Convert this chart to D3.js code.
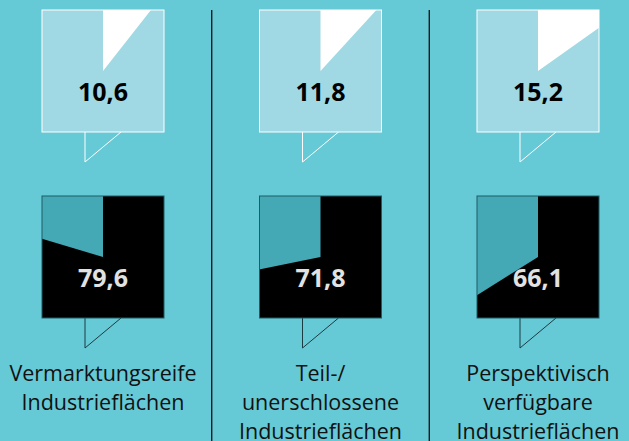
<!DOCTYPE html>
<html>
<head>
<meta charset="utf-8">
<script src="https://cdn.jsdelivr.net/npm/d3@7"></script>
<style>
  body { margin: 0; background: #66c9d6; }
</style>
</head>
<body>
<script>
let width = 629
let height = 441
let backgroundColor = '#66c9d6'

// data
let categories = ['Vermarktungsreife Industrieflächen', 'Teil-/ unerschlossene Industrieflächen', 'Perspektivisch verfügbare Industrieflächen']
let labelLines = [
    ['Vermarktungsreife', 'Industrieflächen'],
    ['Teil-/', 'unerschlossene', 'Industrieflächen'],
    ['Perspektivisch', 'verfügbare', 'Industrieflächen']
]
let topValues = [10.6, 11.8, 15.2]
let bottomValues = [79.6, 71.8, 66.1]

let svgContainer = d3.select("body").append("svg")
                                    .attr("width", width)
                                    .attr("height", height)

svgContainer.append('rect')
            .attr('width', '100%')
            .attr('height', '100%')
            .attr('fill', backgroundColor)

let x = d3.scalePoint().domain(categories).range([103, 538])
let angle = d3.scaleLinear().domain([0, 100]).range([0, 2 * Math.PI])
let fmt = v => d3.format('.1f')(v).replace('.', ',')

let size = 122
let half = size / 2
let topY = 10
let bottomY = 196
let tailLeft = 18, tailRight = 18, tailDepth = 30

// dividers
categories.slice(1).forEach((c, i) => {
    let xm = (x(categories[i]) + x(c)) / 2
    svgContainer.append('line')
                .attr('x1', xm).attr('x2', xm)
                .attr('y1', 10).attr('y2', height)
                .attr('stroke', 'black')
                .attr('stroke-width', 1.2)
})

categories.forEach((c, i) => {
    drawBubble(i, x(c), topY, topValues[i], {
        fill: '#a0d9e3', slice: 'white', stroke: 'white', text: 'black', tail: 'white'
    })
    drawBubble(i + 10, x(c), bottomY, bottomValues[i], {
        fill: '#44a8b5', slice: 'black', stroke: '#1f5d66', text: '#e2e2e2', tail: '#1a3c42'
    })

    let label = svgContainer.append('text')
                            .attr('text-anchor', 'middle')
                            .attr('font-family', 'Open Sans, sans-serif')
                            .attr('font-size', '21.5px')
                            .attr('fill', '#111')
    labelLines[i].forEach((line, j) => {
        label.append('tspan')
             .attr('x', x(c))
             .attr('y', 381 + j * 29)
             .text(line)
    })
})

function drawBubble(id, cx, y0, value, style) {
    let group = svgContainer.append('g')
    let clipId = 'clip' + id
    group.append('clipPath').attr('id', clipId)
         .append('rect')
         .attr('x', cx - half).attr('y', y0)
         .attr('width', size).attr('height', size)

    // tail
    let by = y0 + size
    group.append('path')
         .attr('d', `M${cx - tailLeft},${by} L${cx - tailLeft},${by + tailDepth} L${cx + tailRight},${by}`)
         .attr('fill', 'none')
         .attr('stroke', style.tail)
         .attr('stroke-width', 1)

    group.append('rect')
         .attr('x', cx - half).attr('y', y0)
         .attr('width', size).attr('height', size)
         .attr('fill', style.fill)

    let arc = d3.arc().innerRadius(0).outerRadius(size * 2)
    group.append('g')
         .attr('clip-path', `url(#${clipId})`)
         .append('path')
         .attr('transform', `translate(${cx},${y0 + half})`)
         .attr('d', arc({ startAngle: 0, endAngle: angle(value) }))
         .attr('fill', style.slice)

    group.append('rect')
         .attr('x', cx - half).attr('y', y0)
         .attr('width', size).attr('height', size)
         .attr('fill', 'none')
         .attr('stroke', style.stroke)
         .attr('stroke-width', 1)

    group.append('text')
         .attr('x', cx)
         .attr('y', y0 + 91)
         .attr('text-anchor', 'middle')
         .attr('font-family', 'Open Sans, sans-serif')
         .attr('font-weight', 'bold')
         .attr('font-size', '25px')
         .attr('fill', style.text)
         .text(fmt(value))
}
</script>
</body>
</html>
